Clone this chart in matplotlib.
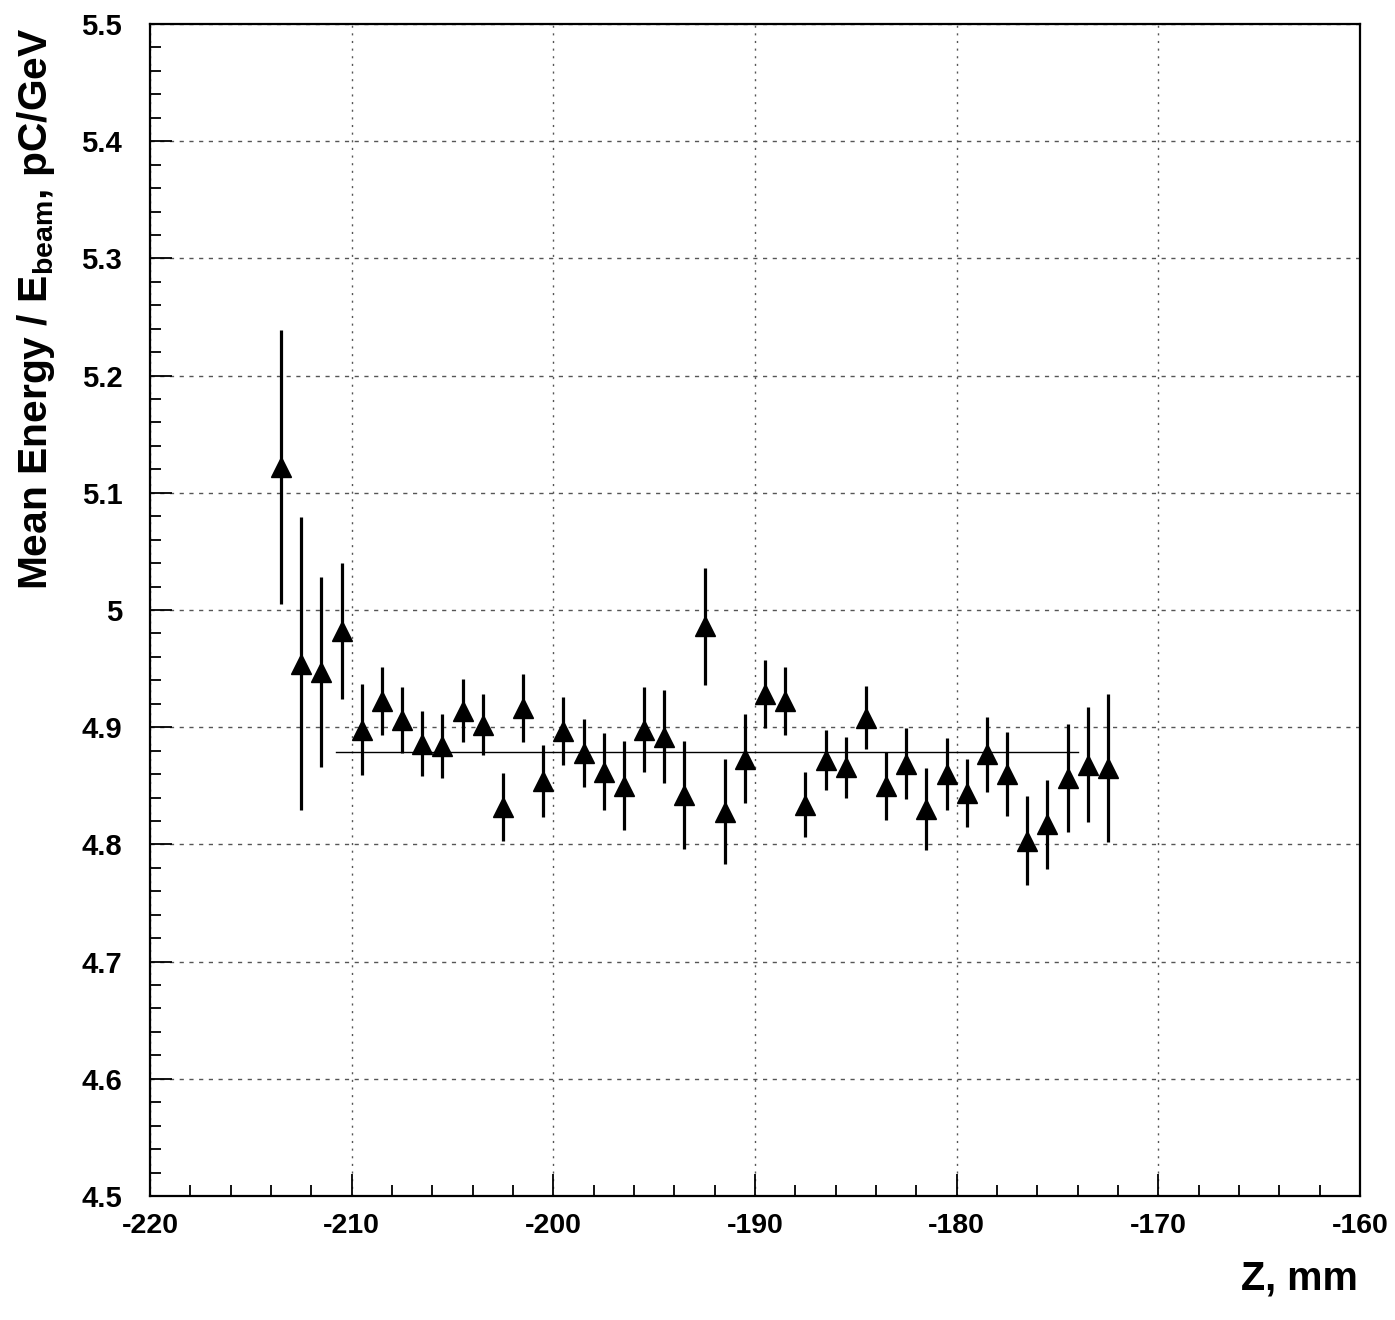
import numpy as np
import matplotlib
matplotlib.use("Agg")
import matplotlib.pyplot as plt
from matplotlib.ticker import MultipleLocator

plt.rcParams['font.family'] = ['Liberation Sans', 'DejaVu Sans']
plt.rcParams['font.weight'] = 'bold'
plt.rcParams['mathtext.fontset'] = 'custom'
plt.rcParams['mathtext.rm'] = 'Liberation Sans:bold'
plt.rcParams['mathtext.it'] = 'Liberation Sans:bold'
plt.rcParams['mathtext.bf'] = 'Liberation Sans:bold'

# Beam position along Z (bin centres), mm
z_mm = [-213.5, -212.5, -211.5, -210.5, -209.5, -208.5, -207.5, -206.5,
        -205.5, -204.5, -203.5, -202.5, -201.5, -200.5, -199.5, -198.5,
        -197.5, -196.5, -195.5, -194.5, -193.5, -192.5, -191.5, -190.5,
        -189.5, -188.5, -187.5, -186.5, -185.5, -184.5, -183.5, -182.5,
        -181.5, -180.5, -179.5, -178.5, -177.5, -176.5, -175.5, -174.5,
        -173.5, -172.5]

# Mean energy normalised to beam energy, pC/GeV
mean_energy = [5.122, 4.954, 4.947, 4.982, 4.898, 4.922, 4.906, 4.886,
               4.884, 4.914, 4.902, 4.832, 4.916, 4.854, 4.897, 4.878,
               4.862, 4.850, 4.898, 4.892, 4.842, 4.986, 4.828, 4.873,
               4.928, 4.922, 4.834, 4.872, 4.866, 4.908, 4.850, 4.869,
               4.830, 4.860, 4.844, 4.877, 4.860, 4.803, 4.817, 4.857,
               4.868, 4.865]

# Statistical uncertainty of each mean
mean_error = [0.117, 0.125, 0.081, 0.058, 0.039, 0.029, 0.028, 0.028,
              0.027, 0.027, 0.026, 0.029, 0.029, 0.031, 0.029, 0.029,
              0.033, 0.038, 0.036, 0.040, 0.046, 0.050, 0.045, 0.038,
              0.029, 0.029, 0.028, 0.026, 0.026, 0.027, 0.029, 0.030,
              0.035, 0.031, 0.029, 0.032, 0.036, 0.038, 0.038, 0.046,
              0.049, 0.063]

# Constant fit over the plateau
fit_range = [-210.8, -174.0]
fit_level = 4.879

fig = plt.figure(figsize=(13.95, 13.2), dpi=100)
ax = fig.add_axes([150/1395, 124/1320, 1210/1395, 1172/1320])

ax.set_xlim(-220, -160)
ax.set_ylim(4.5, 5.5)

ax.xaxis.set_major_locator(MultipleLocator(10))
ax.xaxis.set_minor_locator(MultipleLocator(2))
ax.yaxis.set_major_locator(MultipleLocator(0.1))
ax.yaxis.set_minor_locator(MultipleLocator(0.02))

ax.tick_params(which='both', direction='in', width=1.3, color='black',
               top=False, right=False)
ax.tick_params(which='major', length=16)
ax.tick_params(which='minor', length=8)
ax.tick_params(axis='x', which='major', labelsize=20.5, pad=12)
ax.tick_params(axis='y', which='major', labelsize=21, pad=20)

ax.set_xticks(np.arange(-220, -159, 10))
ax.set_xticklabels([f"{v:d}" for v in range(-220, -159, 10)])
ax.set_yticks(np.round(np.arange(4.5, 5.51, 0.1), 1))
ax.set_yticklabels(["4.5", "4.6", "4.7", "4.8", "4.9", "5", "5.1",
                    "5.2", "5.3", "5.4", "5.5"])

for sp in ax.spines.values():
    sp.set_linewidth(1.6)

ax.grid(True, which='major', axis='y', color='#555555', linewidth=1.0,
        linestyle=(0, (3, 4)))
ax.grid(True, which='major', axis='x', color='#555555', linewidth=1.0,
        linestyle=(0, (1.5, 4)))
ax.set_axisbelow(True)

ax.plot(fit_range, [fit_level, fit_level], color='black', linewidth=1.0,
        zorder=3)

ax.errorbar(z_mm, mean_energy, yerr=mean_error, fmt='^', color='black',
            markersize=15, elinewidth=2.3, capsize=0, zorder=4)

fig.text(1358/1395, 1 - 1290/1320, "Z, mm", ha='right', va='baseline',
         fontsize=28.5, fontweight='bold')
fig.text(47/1395, 1 - 28/1320, r"Mean Energy / E$_{\rm beam}$, pC/GeV",
         rotation=90, rotation_mode='anchor', ha='right', va='baseline',
         fontsize=29.3, fontweight='bold')

fig.savefig("out.png", dpi=100)
